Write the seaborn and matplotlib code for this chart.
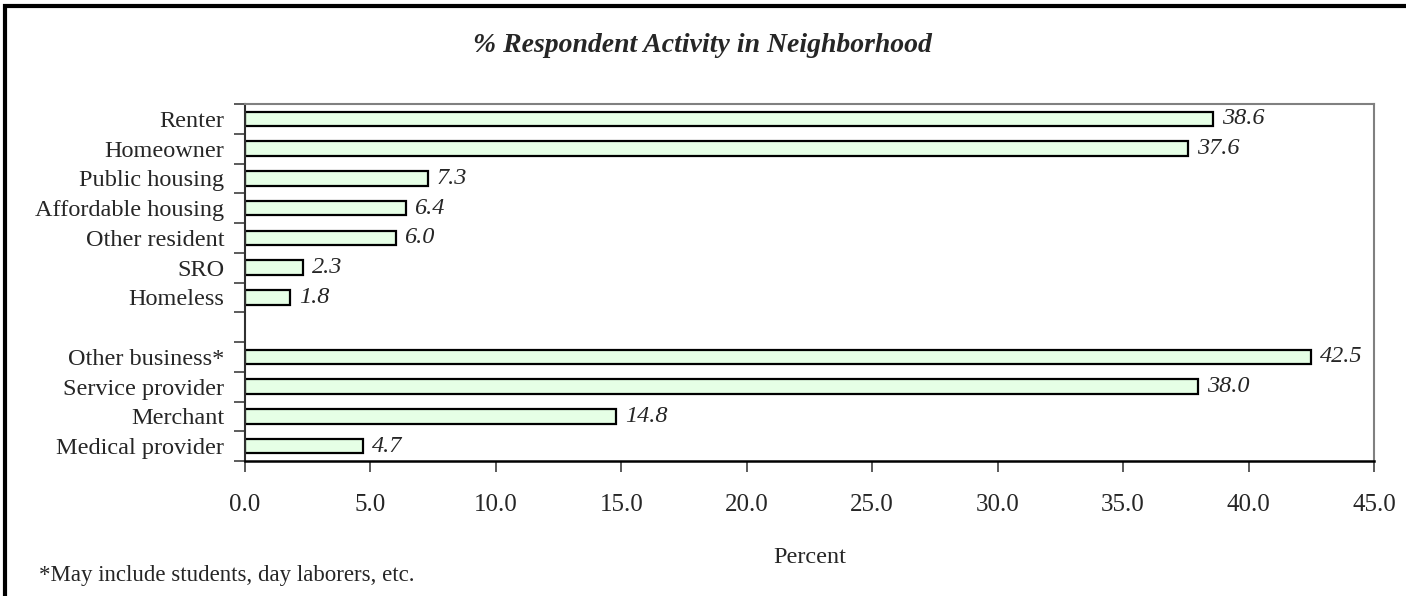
"""Horizontal bar chart of respondent activity in the neighborhood."""

import matplotlib
matplotlib.use("Agg")
import matplotlib.pyplot as plt
import numpy as np
import pandas as pd
import seaborn as sns
from matplotlib.patches import Rectangle

categories = [
    "Renter", "Homeowner", "Public housing", "Affordable housing",
    "Other resident", "SRO", "Homeless", " ",
    "Other business*", "Service provider", "Merchant", "Medical provider",
]
percents = [38.6, 37.6, 7.3, 6.4, 6.0, 2.3, 1.8, np.nan, 42.5, 38.0, 14.8, 4.7]
x_ticks = [0, 5, 10, 15, 20, 25, 30, 35, 40, 45]

sns.set_style("white")
plt.rcParams["font.family"] = ["Liberation Serif", "DejaVu Serif"]

df = pd.DataFrame({"category": categories, "percent": percents})

fig = plt.figure(figsize=(14.06, 5.96), dpi=100)
ax = fig.add_axes([0.1743, 0.2265, 0.9772 - 0.1743, 0.8255 - 0.2265])

sns.barplot(data=df, x="percent", y="category", order=categories, orient="h",
            color="#E6FFE6", edgecolor="black", linewidth=1.6, width=0.48,
            saturation=1, ax=ax)

# value labels in italics at the end of each bar
for i, v in enumerate(percents):
    if np.isnan(v):
        continue
    ax.text(v + 0.35, i, f"{v:.1f}", va="center", ha="left",
            fontsize=17.5, style="italic")

ax.set_xlim(0, 45)
ax.set_ylim(len(categories) - 0.5, -0.5)
ax.set_xticks(x_ticks)
ax.set_xticklabels([f"{t:.1f}" for t in x_ticks], fontsize=18)
ax.tick_params(axis="x", direction="out", length=8, width=1.2, pad=16,
               color="#404040", bottom=True)

# category ticks sit between the bars
ax.set_yticks(np.arange(len(categories)))
ax.set_yticklabels(categories, fontsize=17.5)
ax.set_yticks(np.arange(len(categories) + 1) - 0.5, minor=True)
ax.tick_params(axis="y", which="major", length=0, pad=15)
ax.tick_params(axis="y", which="minor", direction="out", length=8, width=1.2,
               color="#404040", left=True)

ax.set_xlabel("Percent", fontsize=17.5, labelpad=22)
ax.set_ylabel("")

for side in ["top", "right"]:
    ax.spines[side].set_color("#808080")
    ax.spines[side].set_linewidth(1.5)
ax.spines["left"].set_color("#303030")
ax.spines["bottom"].set_color("black")
ax.spines["left"].set_linewidth(1.5)
ax.spines["bottom"].set_linewidth(1.8)

fig.text(0.4993, 0.924, "% Respondent Activity in Neighborhood",
         ha="center", va="center", fontsize=20, fontweight="bold", style="italic")
fig.text(0.028, 0.035, "*May include students, day laborers, etc.",
         ha="left", va="center", fontsize=16.5)

# outer chart border (only left and top edges fall inside the image)
fig.patches.append(Rectangle((4.5 / 1406, -0.1), 1.2, 1.1 - 5.5 / 596,
                             transform=fig.transFigure, fill=False,
                             edgecolor="black", linewidth=3))

plt.savefig("out.png", dpi=100)
plt.close()
